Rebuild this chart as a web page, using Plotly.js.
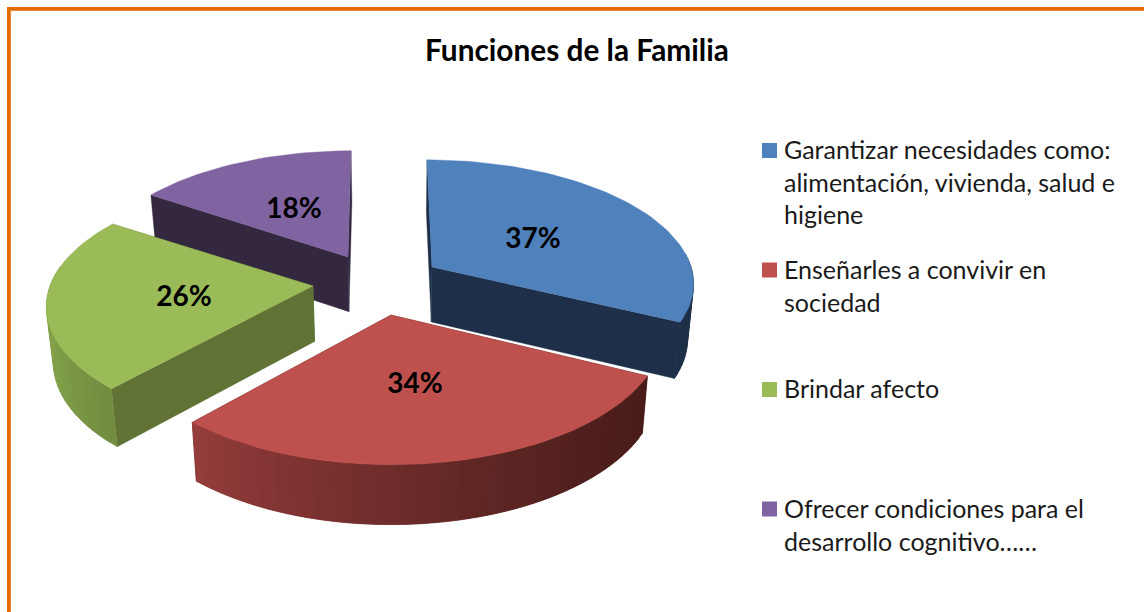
<!DOCTYPE html>
<html>
<head>
<meta charset="utf-8">
<script src="https://cdn.plot.ly/plotly-3.0.1.min.js"></script>
<style>html,body{margin:0;padding:0;background:#fff}#c{width:1144px;height:612px}</style>
</head>
<body>
<div id="c"></div>
<script>
// ---- data ----
var chartTitle = "Funciones de la Familia";
var categories = [
  "Garantizar necesidades como:<br>alimentación, vivienda, salud e<br>higiene",
  "Enseñarles a convivir en<br>sociedad",
  "Brindar afecto",
  "Ofrecer condiciones para el<br>desarrollo cognitivo……"
];
var values = [37, 34, 26, 18];
var topColors = ["#4F81BD", "#BE504D", "#9BBB59", "#8064A2"];
var faceColors = ["#1E3049", "#4E1E1C", "#607234", "#33283F"];
// wall shading: colour at left side and right side of each slice's rim
var wallLeft  = [[30,48,73], [150,62,60], [132,162,74], [51,40,63]];
var wallRight = [[30,48,73], [72,28,26], [112,138,62], [51,40,63]];

// ---- projection of the exploded, tilted pie (pixel-like axes) ----
var geom = [
  {ax:432, ay:267, a:259, b:120, p:0.12,  sk:-5, lx:533, ly:241},
  {ax:391, ay:315, a:271, b:133, p:0.112, sk:0,  lx:415, ly:386},
  {ax:313, ay:286, a:263, b:122, p:0.165, sk:0,  lx:184, ly:299},
  {ax:348, ay:257, a:256, b:120, p:0.13,  sk:3,  lx:294, ly:211}
];
var legendY = [150.5, 270, 389.5, 509];

function rim(g, thetaDeg) {
  var t = thetaDeg * Math.PI / 180, X = Math.sin(t), Y = Math.cos(t), w = 1 + g.p * Y;
  return [g.ax + g.a * X / w + g.sk * Y, g.ay - g.b * Y / w];
}
function lower(pt) {
  return [pt[0] + (395 - pt[0]) * 0.02, pt[1] + 52 + (pt[1] - 150) * 0.025];
}
function rgb(c) { return "rgb(" + c.map(Math.round).join(",") + ")"; }
function poly(pts, color) {
  var xs = pts.map(function (p) { return p[0]; }).concat([pts[0][0]]);
  var ys = pts.map(function (p) { return p[1]; }).concat([pts[0][1]]);
  return {type:"scatter", mode:"lines", x:xs, y:ys, fill:"toself", fillcolor:color,
          line:{color:color, width:0.4}, hoverinfo:"skip", showlegend:false};
}

var total = values.reduce(function (s, v) { return s + v; }, 0);
var spans = [], acc = 0;
values.forEach(function (v) { spans.push([acc, acc + v / total * 360]); acc += v / total * 360; });

var traces = [];
[3, 0, 2, 1].forEach(function (i) {
  var g = geom[i], s = spans[i], apex = [g.ax, g.ay];
  var arc = [], n = Math.ceil((s[1] - s[0]) / 2);
  for (var k = 0; k <= n; k++) arc.push(rim(g, s[0] + (s[1] - s[0]) * k / n));
  var xmin = Math.min.apply(null, arc.map(function (p) { return p[0]; }));
  var xmax = Math.max.apply(null, arc.map(function (p) { return p[0]; }));
  // cut faces
  [arc[0], arc[arc.length - 1]].forEach(function (e) {
    traces.push(poly([apex, e, lower(e), lower(apex)], faceColors[i]));
  });
  // rim wall: each strip overlaps its neighbour so no seam shows
  for (var k2 = 0; k2 < n; k2++) {
    var th = s[0] + (s[1] - s[0]) * (k2 + 0.5) / n;
    if (Math.cos(th * Math.PI / 180) > 0.12) continue;
    var p1 = arc[k2], p2 = arc[Math.min(k2 + 2, n)];
    var f = Math.pow(((arc[k2][0] + arc[k2 + 1][0]) / 2 - xmin) / (xmax - xmin), 0.8);
    var col = wallLeft[i].map(function (c, j) { return c + (wallRight[i][j] - c) * f; });
    traces.push(poly([p1, p2, lower(p2), lower(p1)], rgb(col)));
  }
  // top
  traces.push(poly([apex].concat(arc), topColors[i]));
});

// value labels
traces.push({type:"scatter", mode:"text",
  x:geom.map(function (g) { return g.lx; }), y:geom.map(function (g) { return g.ly; }),
  text:values.map(function (v) { return v + "%"; }),
  textposition:"middle center", cliponaxis:false,
  textfont:{family:"Lato", size:28, color:"#000", weight:700},
  hoverinfo:"skip", showlegend:false});

// legend keys
traces.push({type:"scatter", mode:"markers",
  x:legendY.map(function () { return 769.5; }), y:legendY,
  marker:{symbol:"square", size:15, color:topColors, line:{width:0}},
  hoverinfo:"skip", showlegend:false});

var annotations = categories.map(function (c, i) {
  return {xref:"x", yref:"y", x:782, y:legendY[i] - 18.5, text:c, showarrow:false,
          xanchor:"left", yanchor:"top", align:"left",
          font:{family:"Lato", size:25, color:"#1a1a1a"}};
});
annotations.push({xref:"x", yref:"y", x:577, y:49, text:"<b>" + chartTitle + "</b>", showarrow:false,
  xanchor:"center", yanchor:"middle", font:{family:"Lato", size:29.8, color:"#000"}});

var layout = {
  width:1144, height:612, margin:{l:0, r:0, t:0, b:0},
  paper_bgcolor:"#fff", plot_bgcolor:"#fff", showlegend:false,
  xaxis:{range:[0, 1144], visible:false, fixedrange:true},
  yaxis:{range:[612, 0], visible:false, fixedrange:true},
  annotations:annotations,
  shapes:[
    {type:"line", xref:"x", yref:"y", x0:9, x1:9, y0:9, y1:612, line:{color:"#E26C0A", width:4}, layer:"below"},
    {type:"line", xref:"x", yref:"y", x0:7, x1:1144, y0:9, y1:9, line:{color:"#E26C0A", width:4}, layer:"below"},
    {type:"line", xref:"x", yref:"y", x0:10.5, x1:10.5, y0:10.5, y1:612, line:{color:"#F08A30", width:1}, layer:"below"},
    {type:"line", xref:"x", yref:"y", x0:10.5, x1:1144, y0:10.5, y1:10.5, line:{color:"#F08A30", width:1}, layer:"below"}
  ]
};
Plotly.newPlot("c", traces, layout, {displayModeBar:false, staticPlot:true});
</script>
</body>
</html>
